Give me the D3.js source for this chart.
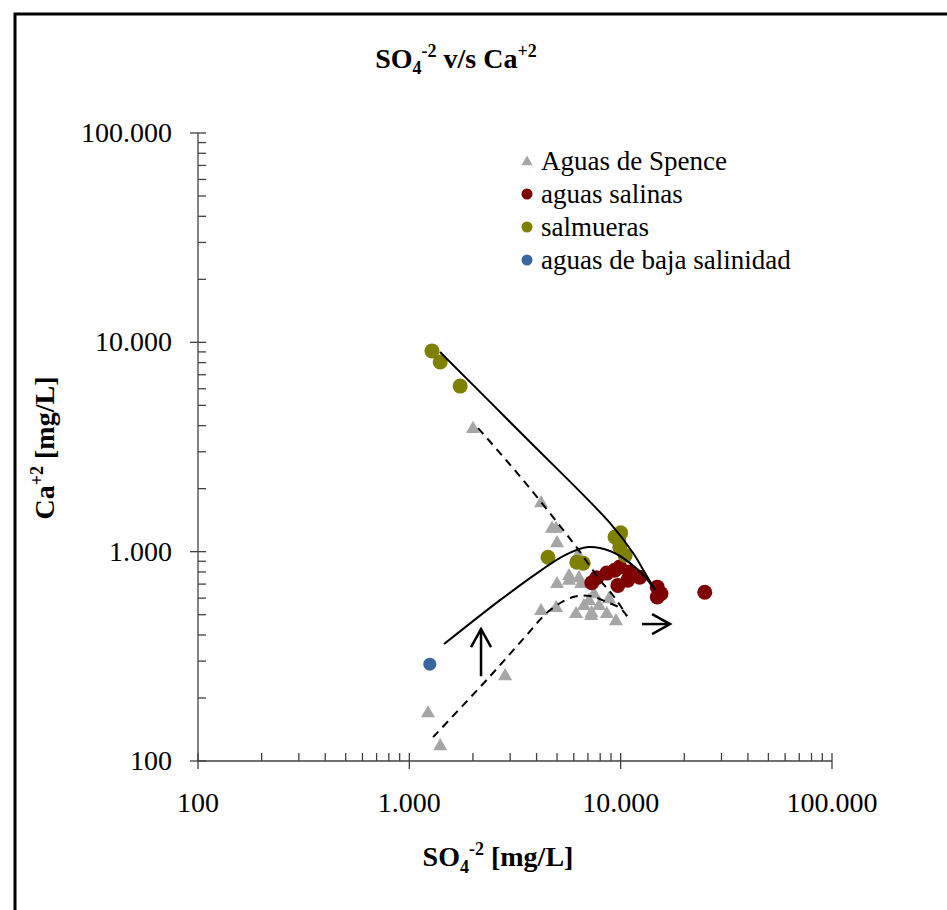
<!DOCTYPE html>
<html>
<head>
<meta charset="utf-8">
<script src="https://cdn.jsdelivr.net/npm/d3@7"></script>
<style>
  html, body { margin: 0; padding: 0; background: #fff; }
  svg { display: block; font-family: "Liberation Serif", "Times New Roman", serif; }
</style>
</head>
<body>
<svg id="chart" width="947" height="910"></svg>
<script>
// ---------- DATA ----------
const majorTicks = [100, 1000, 10000, 100000];
const tickLabels = ["100", "1.000", "10.000", "100.000"];
const seriesNames = ["Aguas de Spence", "aguas salinas", "salmueras", "aguas de baja salinidad"];
const seriesColors = ["#a6a6a6", "#7f0000", "#808000", "#3b679f"];

// [SO4 mg/L, Ca mg/L]
const aguasSpence = [
  [1225, 171], [1400, 119], [2840, 257], [2000, 3900], [4200, 1725],
  [4730, 1300], [4950, 1300], [5000, 1110], [6300, 975], [5000, 708],
  [5700, 773], [5700, 735], [6350, 756], [6500, 708], [4200, 526],
  [4950, 544], [6150, 509], [7250, 498], [6700, 556], [7900, 556],
  [8800, 600], [8600, 509], [9500, 471], [7480, 634], [7280, 514], [7085, 588]
];
const aguasSalinas = [
  [7300, 710], [7700, 750], [8600, 790], [9370, 815], [9900, 845],
  [11000, 800], [12300, 755], [10800, 730], [9700, 690], [14900, 677],
  [14900, 607], [15500, 630], [25000, 640]
];
const salmueras = [
  [1280, 9100], [1400, 8050], [1740, 6180], [4530, 940], [6200, 890],
  [6650, 880], [10000, 1230], [9400, 1175], [9900, 1050], [10500, 960], [9780, 1130]
];
const bajaSalinidad = [[1250, 290]];

// trend lines (data units)
const solidLine = [[1397, 8990], [3528, 3528], [8908, 1369], [11450, 985], [13050, 790], [14550, 655]];
const solidArch = [[1460, 362], [2687, 587], [4154, 808], [5457, 963], [7010, 1052], [8908, 1007], [11080, 882], [13050, 756], [14550, 655]];
const dashedLine = [[2114, 3895], [3452, 2199], [4788, 1463], [6427, 995], [7988, 732], [9408, 600], [10720, 492]];
const dashedArch = [[1295, 130], [2409, 254], [3452, 382], [4634, 526], [5951, 607], [7165, 614], [8620, 574], [9936, 538], [10720, 492]];
const upArrow = [[2184, 254], [2184, 427]];
const rightArrow = [[12630, 451], [17130, 451]];

// ---------- CHART ----------
const svg = d3.select("#chart");
const plot = { left: 198, right: 832, top: 133, bottom: 761 };

// outer frame (left + top border)
svg.append("path")
  .attr("d", "M15,910 L15,14 L947,14")
  .attr("fill", "none").attr("stroke", "#000").attr("stroke-width", 3);

const x = d3.scaleLog().domain([100, 100000]).range([plot.left, plot.right]);
const y = d3.scaleLog().domain([100, 100000]).range([plot.bottom, plot.top]);

const minorTicks = [];
majorTicks.slice(0, -1).forEach(m => { for (let k = 2; k <= 9; k++) minorTicks.push(m * k); });

const axisColor = "#404040";
// X axis
const gx = svg.append("g");
gx.append("line").attr("x1", plot.left).attr("x2", plot.right)
  .attr("y1", plot.bottom).attr("y2", plot.bottom).attr("stroke", axisColor).attr("stroke-width", 1.3);
gx.selectAll(".maj").data(majorTicks).join("line")
  .attr("x1", d => x(d)).attr("x2", d => x(d))
  .attr("y1", plot.bottom - 8).attr("y2", plot.bottom + 8).attr("stroke", axisColor).attr("stroke-width", 1.3);
gx.selectAll(".min").data(minorTicks).join("line")
  .attr("x1", d => x(d)).attr("x2", d => x(d))
  .attr("y1", plot.bottom - 8).attr("y2", plot.bottom).attr("stroke", axisColor).attr("stroke-width", 1.3);
gx.selectAll("text").data(majorTicks).join("text")
  .attr("x", d => x(d)).attr("y", plot.bottom + 51)
  .attr("text-anchor", "middle").attr("font-size", 28)
  .text((d, i) => tickLabels[i]);

// Y axis
const gy = svg.append("g");
gy.append("line").attr("x1", plot.left).attr("x2", plot.left)
  .attr("y1", plot.top).attr("y2", plot.bottom).attr("stroke", axisColor).attr("stroke-width", 1.3);
gy.selectAll(".maj").data(majorTicks).join("line")
  .attr("x1", plot.left - 8).attr("x2", plot.left + 8)
  .attr("y1", d => y(d)).attr("y2", d => y(d)).attr("stroke", axisColor).attr("stroke-width", 1.3);
gy.selectAll(".min").data(minorTicks).join("line")
  .attr("x1", plot.left).attr("x2", plot.left + 8)
  .attr("y1", d => y(d)).attr("y2", d => y(d)).attr("stroke", axisColor).attr("stroke-width", 1.3);
gy.selectAll("text").data(majorTicks).join("text")
  .attr("x", plot.left - 26).attr("y", d => y(d) + 9)
  .attr("text-anchor", "end").attr("font-size", 28)
  .text((d, i) => tickLabels[i]);

// Title
const title = svg.append("text").attr("x", 456).attr("y", 68)
  .attr("text-anchor", "middle").attr("font-size", 28).attr("font-weight", "bold");
title.append("tspan").text("SO");
title.append("tspan").attr("font-size", 18).attr("dy", 6).text("4");
title.append("tspan").attr("font-size", 18).attr("dy", -17).text("-2");
title.append("tspan").attr("dy", 11).text(" v/s Ca");
title.append("tspan").attr("font-size", 18).attr("dy", -11).text("+2");

// X axis title
const xt = svg.append("text").attr("x", 498).attr("y", 866)
  .attr("text-anchor", "middle").attr("font-size", 28).attr("font-weight", "bold");
xt.append("tspan").text("SO");
xt.append("tspan").attr("font-size", 18).attr("dy", 7).text("4");
xt.append("tspan").attr("font-size", 18).attr("dy", -18).text("-2");
xt.append("tspan").attr("dy", 11).text(" [mg/L]");

// Y axis title
const yt = svg.append("text")
  .attr("transform", "translate(54,448) rotate(-90)")
  .attr("text-anchor", "middle").attr("font-size", 28).attr("font-weight", "bold");
yt.append("tspan").text("Ca");
yt.append("tspan").attr("font-size", 18).attr("dy", -11).text("+2");
yt.append("tspan").attr("dy", 11).text(" [mg/L]");

// markers
const tri = d3.symbol().type(d3.symbolTriangle).size(85);
svg.append("g").selectAll("path").data(aguasSpence).join("path")
  .attr("d", tri).attr("transform", d => `translate(${x(d[0])},${y(d[1]) + 1})`)
  .attr("fill", seriesColors[0]);

const circleSeries = [aguasSalinas, salmueras, bajaSalinidad];
circleSeries.forEach((s, i) => {
  svg.append("g").selectAll("circle").data(s).join("circle")
    .attr("cx", d => x(d[0])).attr("cy", d => y(d[1])).attr("r", i === 2 ? 6.5 : 7.5)
    .attr("fill", seriesColors[i + 1]);
});

// lines
const lineSmooth = d3.line().x(d => x(d[0])).y(d => y(d[1])).curve(d3.curveCatmullRom.alpha(0.5));
const lineMono = d3.line().x(d => x(d[0])).y(d => y(d[1])).curve(d3.curveMonotoneX);
const lineStraight = d3.line().x(d => x(d[0])).y(d => y(d[1]));
svg.append("path").attr("d", lineSmooth(solidLine)).attr("fill", "none").attr("stroke", "#000").attr("stroke-width", 2);
svg.append("path").attr("d", lineSmooth(solidArch)).attr("fill", "none").attr("stroke", "#000").attr("stroke-width", 2);
svg.append("path").attr("d", lineMono(dashedLine)).attr("fill", "none").attr("stroke", "#000").attr("stroke-width", 2).attr("stroke-dasharray", "8,6");
svg.append("path").attr("d", lineSmooth(dashedArch)).attr("fill", "none").attr("stroke", "#000").attr("stroke-width", 2).attr("stroke-dasharray", "8,6");

// arrows
function arrow(pts) {
  const x0 = x(pts[0][0]), y0 = y(pts[0][1]), x1 = x(pts[1][0]), y1 = y(pts[1][1]);
  const ang = Math.atan2(y1 - y0, x1 - x0);
  const L = 18, W = 10;
  const bx = x1 - L * Math.cos(ang), by = y1 - L * Math.sin(ang);
  const px = -Math.sin(ang) * W, py = Math.cos(ang) * W;
  svg.append("path").attr("d", lineStraight(pts)).attr("fill", "none").attr("stroke", "#000").attr("stroke-width", 2.5);
  svg.append("path")
    .attr("d", `M${bx + px},${by + py} L${x1},${y1} L${bx - px},${by - py}`)
    .attr("fill", "none").attr("stroke", "#000").attr("stroke-width", 2.5);
}
arrow(upArrow);
arrow(rightArrow);

// legend
const legend = svg.append("g");
const legY0 = 161, legDy = 33;
seriesNames.forEach((name, i) => {
  const cy = legY0 + i * legDy;
  if (i === 0) {
    legend.append("path").attr("d", d3.symbol().type(d3.symbolTriangle).size(55))
      .attr("transform", `translate(527,${cy + 1})`).attr("fill", seriesColors[0]);
  } else {
    legend.append("circle").attr("cx", 527).attr("cy", cy).attr("r", 5.5).attr("fill", seriesColors[i]);
  }
  legend.append("text").attr("x", 541).attr("y", cy + 9).attr("font-size", 27).text(name);
});
</script>
</body>
</html>
